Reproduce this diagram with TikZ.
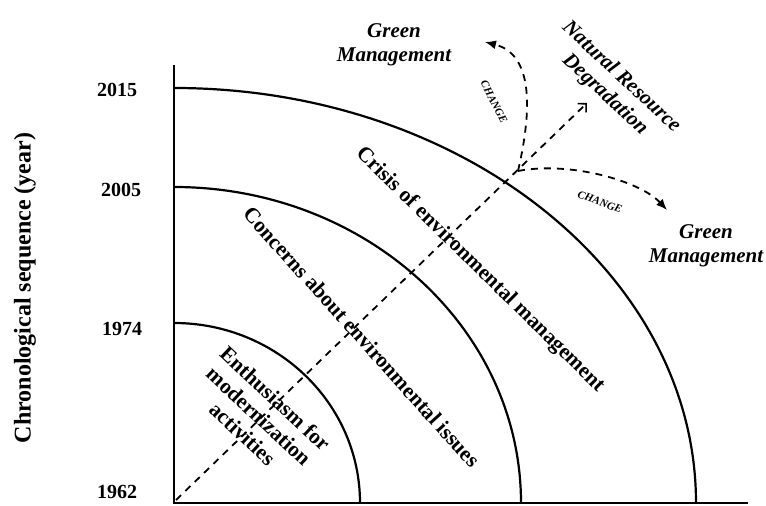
\documentclass[tikz,border=0pt]{standalone}
\usepackage{fontspec}
\setmainfont{Liberation Serif}
\usetikzlibrary{arrows.meta}
\begin{document}
\begin{tikzpicture}[x=1pt,y=1pt,
  lbl/.style={font=\bfseries\fontsize{21.5}{24}\selectfont, inner sep=0pt, align=center},
  ilbl/.style={font=\bfseries\itshape\fontsize{21}{24}\selectfont, inner sep=0pt, align=center},
  yr/.style={font=\bfseries\fontsize{20}{24}\selectfont, inner sep=0pt},
  ylbl/.style={font=\bfseries\fontsize{24}{28}\selectfont, inner sep=0pt},
  chg/.style={font=\bfseries\itshape\fontsize{11}{13}\selectfont, inner sep=0pt},
  axisline/.style={line width=2.2pt},
  arcline/.style={line width=2.2pt},
  dashline/.style={line width=1.8pt, dash pattern=on 7pt off 6pt}]
\useasboundingbox (0,0) rectangle (766,506);
% axes
\coordinate (O) at (174,3);
\coordinate (ytop) at (174,441);
\coordinate (xend) at (748,3);
\draw[axisline] (ytop) -- (O) -- (xend);
% arcs
\draw[arcline] (174,183) arc[start angle=90,end angle=0,x radius=186,y radius=180];
\draw[arcline] (174,319) arc[start angle=90,end angle=0,x radius=347,y radius=316];
\draw[arcline] (174,418) arc[start angle=90,end angle=0,x radius=522,y radius=415];
% year labels
\node[yr] (y2015) at (117,416) {2015};
\node[yr] (y2005) at (121,316) {2005};
\node[yr] (y1974) at (122,177) {1974};
\node[yr] (y1962) at (117,14) {1962};
\node[ylbl, rotate=90] (ylab) at (25,218) {Chronological sequence (year)};
% arc labels
\node[lbl, rotate=-43] (enth) at (259,90) {Enthusiasm for\\modernization\\activities};
\node[lbl, rotate=-48] (conc) at (362,169) {Concerns about environmental issues};
\node[lbl, rotate=-44.5] (cris) at (480,236) {Crisis of environmental management};
% main dashed arrow
\coordinate (dstart) at (176,6);
\coordinate (dend) at (587,403);
\draw[dashline, -{Straight Barb[length=6pt,width=12pt,line width=1.6pt]}] (dstart) -- (dend);
\node[ilbl, rotate=-43] (nrd) at (613,420) {Natural Resource\\Degradation};
% change arrows
\coordinate (J) at (518,335);
\node[ilbl] (gm1) at (394,461) {Green\\Management};
\node[ilbl] (gm2) at (706,260) {Green\\Management};
\draw[dashline, -{Latex[length=11pt,width=9pt]}] (J) .. controls (533,400) and (532,452) .. (485,464);
\draw[dashline, -{Latex[length=11pt,width=9pt]}] (J) .. controls (570,345) and (640,325) .. (667,296);
\node[chg, rotate=-63] (c1) at (494,404) {CHANGE};
\node[chg, rotate=-20] (c2) at (600,304) {CHANGE};
\end{tikzpicture}
\end{document}
